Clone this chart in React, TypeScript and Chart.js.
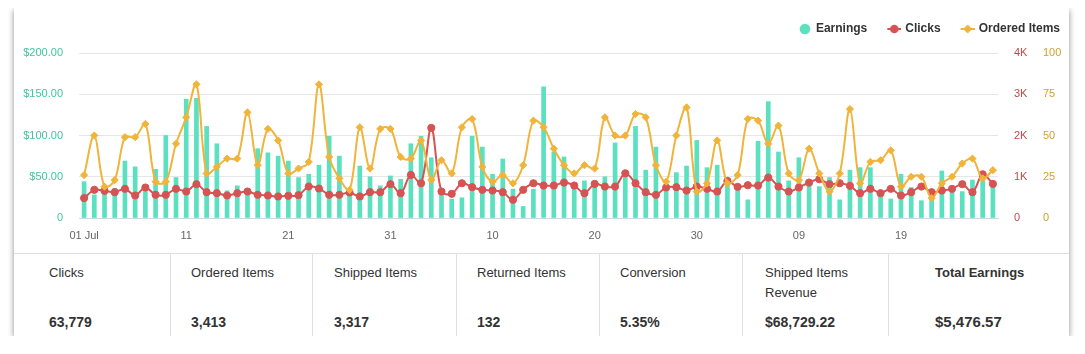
import React, { useEffect, useRef } from "react";
import { Chart, registerables } from "chart.js";

Chart.register(...registerables);

const FONT = "'Liberation Sans', Arial, Helvetica, sans-serif";

const MONTHS: [string, number][] = [["Jul", 31], ["Aug", 31], ["Sep", 28]];
const CATEGORIES: string[] = MONTHS.flatMap(([m, n]) =>
  Array.from({ length: n }, (_, i) => `${String(i + 1).padStart(2, "0")} ${m}`)
);
const X_TICK_LABELS = ["01 Jul", "11", "21", "31", "10", "20", "30", "09", "19"];

const EARNINGS = [
  44, 28, 30, 36, 69, 62, 34, 59, 100, 49,
  144, 145, 111, 90, 33, 39, 30, 84, 79, 75,
  69, 49, 53, 64, 99, 75, 30, 63, 50, 39,
  51, 47, 90, 99, 73, 28, 23, 24.5, 99, 86,
  53, 71.5, 35, 14, 35, 159, 80, 74, 39, 45,
  42, 50, 91, 50, 111, 58, 86, 36, 55, 63,
  94, 61, 64, 44, 38, 22, 93, 141, 80, 45,
  73, 42, 38, 49, 22, 58, 61, 61, 30, 23,
  53, 37, 21, 31, 57, 32, 32, 46, 46, 42,
];

const CLICKS = [
  482, 683, 658, 626, 707, 546, 739, 562, 562, 707,
  642, 819, 626, 602, 546, 602, 642, 562, 546, 522,
  538, 554, 763, 715, 562, 562, 618, 522, 626, 626,
  819, 602, 1044, 843, 2184, 642, 586, 843, 747, 683,
  666, 626, 442, 683, 843, 787, 787, 859, 787, 602,
  827, 763, 763, 1084, 843, 626, 562, 739, 747, 666,
  763, 707, 642, 899, 755, 795, 787, 980, 763, 642,
  739, 859, 940, 819, 843, 779, 602, 707, 602, 707,
  546, 626, 763, 626, 666, 707, 819, 626, 1060, 827,
];

const ORDERED_ITEMS = [
  26, 50, 19, 23, 49, 49, 57, 22, 22, 45,
  61, 81, 27, 31, 36, 36, 64, 32, 54, 47,
  27, 30, 34, 81, 37, 24, 17, 55, 30, 54,
  54, 37, 36, 47, 23, 35, 27, 55, 60, 31,
  22, 26, 21, 32, 59, 55, 42, 32, 27, 32,
  30, 61, 50, 50, 63, 61, 32, 22, 50, 67,
  16, 21, 47, 21, 26, 60, 59, 45, 56, 27,
  23, 42, 27, 16, 27, 66, 21, 34, 35, 41,
  19, 25, 25, 12, 21, 25, 33, 36, 24, 29,
];

const SERIES_NAMES = ["Earnings", "Clicks", "Ordered Items"];
const COLORS = ["#5be0c0", "#d65353", "#f0b43a"];
const AXIS_COLORS = ["#3fc69e", "#bb4a4a", "#d4a02c"];

const STAT_LABELS = ["Clicks", "Ordered Items", "Shipped Items", "Returned Items", "Conversion", "Shipped Items Revenue", "Total Earnings"];
const STAT_VALUES = ["63,779", "3,413", "3,317", "132", "5.35%", "$68,729.22", "$5,476.57"];
const STAT_WIDTHS = [156, 142, 144, 143, 143, 146, 181];
const STAT_PAD = [35, 21, 22, 21, 21, 23, 47];

function makeIcon(kind: "circle" | "lineCircle" | "lineDiamond", color: string): HTMLCanvasElement {
  const c = document.createElement("canvas");
  c.width = 30;
  c.height = 12;
  const ctx = c.getContext("2d")!;
  const cx = 23, cy = 6;
  ctx.fillStyle = color;
  ctx.strokeStyle = color;
  if (kind === "circle") {
    ctx.beginPath();
    ctx.arc(cx, cy, 5.3, 0, Math.PI * 2);
    ctx.fill();
    return c;
  }
  ctx.lineWidth = 2;
  ctx.beginPath();
  ctx.moveTo(16, cy);
  ctx.lineTo(30, cy);
  ctx.stroke();
  ctx.beginPath();
  if (kind === "lineCircle") {
    ctx.arc(cx, cy, 4.3, 0, Math.PI * 2);
  } else {
    const r = 4.5;
    ctx.moveTo(cx - r, cy);
    ctx.lineTo(cx, cy - r);
    ctx.lineTo(cx + r, cy);
    ctx.lineTo(cx, cy + r);
    ctx.closePath();
  }
  ctx.fill();
  return c;
}

export default function App() {
  const ref = useRef<HTMLCanvasElement | null>(null);

  useEffect(() => {
    if (!ref.current) return;
    Chart.defaults.font.family = FONT;
    const icons = [
      makeIcon("circle", COLORS[0]),
      makeIcon("lineCircle", COLORS[1]),
      makeIcon("lineDiamond", COLORS[2]),
    ];
    const legendFix = {
      id: "legendFix",
      beforeLayout(chart: any) {
        const lg = chart.legend;
        if (lg && !lg._patched) {
          const orig = lg.fit;
          lg.fit = function () {
            orig.call(this);
            this.height = 36;
          };
          lg._patched = true;
        }
      },
    };
    const chart = new Chart(ref.current, {
      type: "bar",
      data: {
        labels: CATEGORIES,
        datasets: [
          {
            type: "bar",
            label: SERIES_NAMES[0],
            data: EARNINGS,
            backgroundColor: COLORS[0],
            borderWidth: 0,
            barThickness: 4,
            yAxisID: "y",
            order: 3,
          },
          {
            type: "line",
            label: SERIES_NAMES[1],
            data: CLICKS,
            borderColor: COLORS[1],
            backgroundColor: COLORS[1],
            borderWidth: 2,
            pointRadius: 3.6,
            pointBorderWidth: 1,
            pointStyle: "circle",
            tension: 0.35,
            yAxisID: "y1",
            order: 2,
          },
          {
            type: "line",
            label: SERIES_NAMES[2],
            data: ORDERED_ITEMS,
            borderColor: COLORS[2],
            backgroundColor: COLORS[2],
            borderWidth: 2,
            pointRadius: 3.6,
            pointBorderWidth: 1,
            pointStyle: "rectRot",
            tension: 0.35,
            yAxisID: "y2",
            order: 1,
          },
        ] as any,
      },
      options: {
        animation: false,
        responsive: false,
        devicePixelRatio: 1,
        layout: { padding: { top: 9, right: 3, left: 0, bottom: 0 } },
        plugins: {
          tooltip: { enabled: false },
          legend: {
            position: "top",
            align: "end",
            labels: {
              usePointStyle: true,
              pointStyleWidth: 26,
              padding: 6,
              color: "#333",
              font: { size: 12, weight: "bold" as any, family: FONT },
              generateLabels: (ch: any) =>
                ch.data.datasets.map((ds: any, i: number) => ({
                  text: ds.label,
                  pointStyle: icons[i],
                  fillStyle: "rgba(0,0,0,0)",
                  strokeStyle: "rgba(0,0,0,0)",
                  lineWidth: 0,
                  hidden: !ch.isDatasetVisible(i),
                  datasetIndex: i,
                  fontColor: "#333",
                })),
            },
          },
        },
        scales: {
          x: {
            offset: true,
            grid: { display: false, drawTicks: false },
            border: { display: true, color: "#ccd6eb", width: 1 },
            ticks: {
              autoSkip: false,
              maxRotation: 0,
              minRotation: 0,
              padding: 11,
              color: "#666",
              font: { size: 11, family: FONT },
              callback: (_v: any, i: number) => (i % 10 === 0 ? X_TICK_LABELS[i / 10] : ""),
            },
            afterFit: (s: any) => {
              s.height = 35;
            },
          },
          y: {
            position: "left",
            min: 0,
            max: 200,
            grid: { color: "#e6e6e6", drawTicks: false },
            border: { display: false },
            ticks: {
              stepSize: 50,
              padding: 16,
              color: AXIS_COLORS[0],
              font: { size: 11, family: FONT },
              callback: (v: any) => (v === 0 ? "0" : "$" + Number(v).toFixed(2)),
            },
            afterFit: (s: any) => {
              s.width = 65;
            },
          },
          y1: {
            position: "right",
            min: 0,
            max: 4000,
            grid: { display: false, drawTicks: false },
            border: { display: false },
            ticks: {
              stepSize: 1000,
              padding: 16,
              color: AXIS_COLORS[1],
              font: { size: 11, family: FONT },
              callback: (v: any) => (v === 0 ? "0" : Number(v) / 1000 + "K"),
            },
            afterFit: (s: any) => {
              s.width = 40;
            },
          },
          y2: {
            position: "right",
            min: 0,
            max: 100,
            grid: { display: false, drawTicks: false },
            border: { display: false },
            ticks: {
              stepSize: 25,
              padding: 5,
              color: AXIS_COLORS[2],
              font: { size: 11, family: FONT },
            },
            afterFit: (s: any) => {
              s.width = 28;
            },
          },
        },
      } as any,
      plugins: [legendFix],
    });
    return () => chart.destroy();
  }, []);

  return (
    <div
      style={{
        marginLeft: 6,
        width: 1055,
        background: "#fff",
        boxShadow: "0 2px 6px rgba(0,0,0,0.45)",
        fontFamily: FONT,
        color: "#333",
      }}
    >
      <canvas ref={ref} width={1055} height={245} style={{ display: "block", width: 1055, height: 245 }} />
      <div style={{ display: "flex", borderTop: "1px solid #e0e0e0", height: 82 }}>
        {STAT_LABELS.map((lab, i) => {
          const last = i === STAT_LABELS.length - 1;
          return (
            <div
              key={lab}
              style={{
                position: "relative",
                boxSizing: "border-box",
                width: STAT_WIDTHS[i],
                height: 82,
                borderLeft: i > 0 ? "1px solid #e0e0e0" : "none",
              }}
            >
              <div
                style={{
                  position: "absolute",
                  top: 9,
                  left: STAT_PAD[i] - (i > 0 ? 1 : 0),
                  width: last ? 120 : 100,
                  fontSize: 13,
                  lineHeight: "20px",
                  fontWeight: last ? "bold" : "normal",
                }}
              >
                {lab}
              </div>
              <div
                style={{
                  position: "absolute",
                  top: 58,
                  left: STAT_PAD[i] - (i > 0 ? 1 : 0),
                  fontSize: last ? 15 : 14,
                  lineHeight: "20px",
                  fontWeight: "bold",
                  whiteSpace: "nowrap",
                }}
              >
                {STAT_VALUES[i]}
              </div>
            </div>
          );
        })}
      </div>
    </div>
  );
}
